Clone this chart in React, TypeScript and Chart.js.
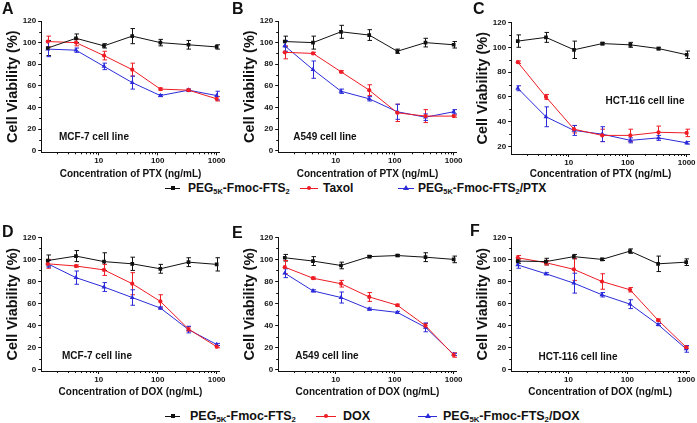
import React, { useEffect, useRef } from 'react';
import { Chart, registerables } from 'chart.js';
Chart.register(...registerables);

const FONT = '"Liberation Sans", Arial, Helvetica, sans-serif';
const INK = '#111111';
const RED = '#ee1c24';
const BLUE = '#2b2bd9';

// ---- data ----
const concentrations = [1.37, 4.12, 12.3, 37.0, 111, 333, 1000];
const xMajorTicks = [10, 100, 1000];
const yTicksFull = [0, 20, 40, 60, 80, 100, 120];
const yTicksC = [20, 40, 60, 80, 100, 120];

const aCarrier = [95, 104, 97, 106, 100, 98, 96];
const aCarrierErr = [7, 4, 2, 7, 3, 4, 2];
const aTaxol = [101, 100, 88, 75, 57, 56, 48];
const aTaxolErr = [5, 3, 4, 6, 1, 1, 2];
const aConj = [94, 93, 78, 63, 51, 56, 51];
const aConjErr = [7, 2, 3, 6, 1, 1, 4];

const bCarrier = [101, 100, 110, 107, 92, 100, 98];
const bCarrierErr = [5, 6, 6, 5, 2, 4, 3];
const bTaxol = [91, 90, 73, 56, 35, 32, 32];
const bTaxolErr = [6, 1, 1, 5, 8, 6, 1];
const bConj = [97, 75, 55, 48, 36, 31, 36];
const bConjErr = [5, 8, 2, 2, 7, 3, 2];

const cCarrier = [105, 108, 98, 103, 102, 99, 94];
const cCarrierErr = [5, 4, 7, 1, 2, 1, 3];
const cTaxol = [88, 60, 34, 29, 29, 31.5, 31];
const cTaxolErr = [1, 2, 3, 5, 5, 5, 3];
const cConj = [67, 44, 33, 30, 25, 27, 23];
const cConjErr = [2, 8, 4, 6, 2, 2, 1];

const dCarrier = [99, 103, 98, 96, 91.5, 97.5, 95.5];
const dCarrierErr = [5, 5, 8, 6, 4, 4, 6];
const dDox = [96, 94, 90.5, 78, 62, 37, 21];
const dDoxErr = [4, 1, 5, 10, 6, 2, 1];
const dConj = [96, 83.5, 75, 65.5, 56, 36.5, 23];
const dConjErr = [3, 6, 4, 7, 1, 3, 1];

const eCarrier = [101.5, 98.5, 94.5, 102.5, 103.5, 102, 100];
const eCarrierErr = [3, 4, 3, 1, 1, 4, 3];
const eDox = [93, 83, 78, 66, 58.5, 40, 13.5];
const eDoxErr = [6, 1, 3, 4, 1, 2, 2];
const eConj = [87.5, 71.5, 65.5, 55, 52, 38.5, 14];
const eConjErr = [4, 1, 5, 1, 1, 4, 1];

const fCarrier = [98.5, 98, 102.5, 100, 107.5, 96, 97.5];
const fCarrierErr = [2, 3, 2, 1, 2, 7, 3];
const fDox = [101.5, 97, 91, 80, 72.5, 45, 20.5];
const fDoxErr = [2, 2, 10, 7, 2, 1, 1];
const fConj = [95, 87, 78.5, 68, 59.5, 41, 19];
const fConjErr = [3, 1, 9, 2, 4, 1, 3];

// ---- plugins ----
const errorBarPlugin = {
  id: 'errorBars',
  beforeDatasetsDraw(chart: any) {
    const { ctx } = chart;
    const ys = chart.scales.y;
    chart.data.datasets.forEach((ds: any, i: number) => {
      const meta = chart.getDatasetMeta(i);
      const errs: number[] = ds.errors;
      if (!errs) return;
      ctx.save();
      ctx.strokeStyle = ds.borderColor;
      ctx.lineWidth = 1;
      ctx.beginPath();
      meta.data.forEach((pt: any, j: number) => {
        const v = ds.data[j].y;
        const e = errs[j];
        const top = ys.getPixelForValue(v + e);
        const bot = ys.getPixelForValue(v - e);
        const x = Math.round(pt.x) + 0.5;
        ctx.moveTo(x, top);
        ctx.lineTo(x, bot);
        ctx.moveTo(x - 2, top);
        ctx.lineTo(x + 2.5, top);
        ctx.moveTo(x - 2, bot);
        ctx.lineTo(x + 2.5, bot);
      });
      ctx.stroke();
      ctx.restore();
    });
  },
};

const minorTicksPlugin = {
  id: 'minorTicks',
  afterDraw(chart: any) {
    const { ctx, chartArea } = chart;
    const xs = chart.scales.x;
    const ys = chart.scales.y;
    ctx.save();
    ctx.strokeStyle = INK;
    ctx.lineWidth = 1;
    ctx.beginPath();
    for (let d = 1; d <= 1000; d *= 10) {
      for (let m = 2; m <= 9; m++) {
        const v = m * d;
        if (v < xs.min || v > xs.max) continue;
        const px = Math.round(xs.getPixelForValue(v)) + 0.5;
        ctx.moveTo(px, chartArea.bottom);
        ctx.lineTo(px, chartArea.bottom + 2);
      }
    }
    const yt = ys.ticks.map((t: any) => t.value);
    for (let i = 0; i < yt.length - 1; i++) {
      const v = (yt[i] + yt[i + 1]) / 2;
      const py = Math.round(ys.getPixelForValue(v)) + 0.5;
      ctx.moveTo(chartArea.left, py);
      ctx.lineTo(chartArea.left - 2, py);
    }
    ctx.stroke();
    ctx.restore();
  },
};

type Series = { values: number[]; errors: number[]; color: string; style: string; radius: number };
type PanelCfg = {
  left: number; top: number; width: number; height: number;
  padTop: number; chartBottom: number; yMin: number; yMax: number; yTicks: number[];
  xTitle: string; series: Series[];
};

const Y_AXIS_W = 41.2;
const PLOT_W = 178.6;

function mkSeries(carrier: number[], cErr: number[], drug: number[], dErr: number[], conj: number[], jErr: number[]): Series[] {
  return [
    { values: carrier, errors: cErr, color: INK, style: 'rect', radius: 2.6 },
    { values: drug, errors: dErr, color: RED, style: 'circle', radius: 2.1 },
    { values: conj, errors: jErr, color: BLUE, style: 'triangle', radius: 2.8 },
  ];
}

const panels: PanelCfg[] = [
  { left: 0, top: 0, width: 232, height: 180, padTop: 21, chartBottom: 152.3, yMin: -1.5, yMax: 120, yTicks: yTicksFull, xTitle: 'Concentration of PTX (ng/mL)', series: mkSeries(aCarrier, aCarrierErr, aTaxol, aTaxolErr, aConj, aConjErr) },
  { left: 237, top: 0, width: 232, height: 180, padTop: 21, chartBottom: 152.3, yMin: -1.5, yMax: 120, yTicks: yTicksFull, xTitle: 'Concentration of PTX (ng/mL)', series: mkSeries(bCarrier, bCarrierErr, bTaxol, bTaxolErr, bConj, bConjErr) },
  { left: 470, top: 0, width: 227, height: 180, padTop: 22.5, chartBottom: 154, yMin: 14, yMax: 120, yTicks: yTicksC, xTitle: 'Concentration of PTX (ng/mL)', series: mkSeries(cCarrier, cCarrierErr, cTaxol, cTaxolErr, cConj, cConjErr) },
  { left: 0, top: 216, width: 232, height: 182, padTop: 21.3, chartBottom: 155, yMin: -1, yMax: 120, yTicks: yTicksFull, xTitle: 'Concentration of DOX (ng/mL)', series: mkSeries(dCarrier, dCarrierErr, dDox, dDoxErr, dConj, dConjErr) },
  { left: 237, top: 216, width: 232, height: 182, padTop: 21.3, chartBottom: 155, yMin: -1, yMax: 120, yTicks: yTicksFull, xTitle: 'Concentration of DOX (ng/mL)', series: mkSeries(eCarrier, eCarrierErr, eDox, eDoxErr, eConj, eConjErr) },
  { left: 469.5, top: 216, width: 227.5, height: 182, padTop: 21.3, chartBottom: 155, yMin: -1, yMax: 120, yTicks: yTicksFull, xTitle: 'Concentration of DOX (ng/mL)', series: mkSeries(fCarrier, fCarrierErr, fDox, fDoxErr, fConj, fConjErr) },
];

function Panel({ cfg }: { cfg: PanelCfg }) {
  const ref = useRef<HTMLCanvasElement | null>(null);
  useEffect(() => {
    if (!ref.current) return;
    const padRight = cfg.width - Y_AXIS_W - PLOT_W;
    const xAxisH = cfg.height - cfg.chartBottom;
    const tickFont = { family: FONT, size: 8, weight: 'bold' as const };
    const chart = new Chart(ref.current, {
      type: 'line',
      data: {
        datasets: cfg.series.map((s) => ({
          data: concentrations.map((c, i) => ({ x: c, y: s.values[i] })),
          errors: s.errors,
          borderColor: s.color,
          backgroundColor: s.color,
          borderWidth: 1,
          pointStyle: s.style,
          pointRadius: s.radius,
          pointBorderWidth: 0,
          pointBackgroundColor: s.color,
          tension: 0,
          fill: false,
        })) as any,
      },
      options: {
        responsive: false,
        animation: false,
        devicePixelRatio: 1,
        events: [],
        layout: { padding: { top: cfg.padTop, right: padRight, left: 0, bottom: 0 } },
        plugins: { legend: { display: false }, tooltip: { enabled: false } },
        scales: {
          x: {
            type: 'logarithmic',
            min: 1.06,
            max: 1130,
            afterBuildTicks: (s: any) => { s.ticks = xMajorTicks.map((v) => ({ value: v })); },
            afterFit: (s: any) => { s.height = xAxisH; },
            ticks: { callback: (v: any) => String(v), font: tickFont, color: INK, padding: 1, maxRotation: 0, autoSkip: false },
            grid: { display: true, drawOnChartArea: false, drawTicks: true, tickLength: 3, color: INK, tickColor: INK },
            border: { display: true, color: INK, width: 1 },
            title: { display: true, text: cfg.xTitle, color: INK, font: { family: FONT, size: 10, weight: 'bold' }, padding: { top: 0, bottom: 0 } },
          },
          y: {
            type: 'linear',
            min: cfg.yMin,
            max: cfg.yMax,
            afterBuildTicks: (s: any) => { s.ticks = cfg.yTicks.map((v) => ({ value: v })); },
            afterFit: (s: any) => { s.width = Y_AXIS_W; },
            ticks: { font: tickFont, color: INK, padding: 2 },
            grid: { display: true, drawOnChartArea: false, drawTicks: true, tickLength: 3, color: INK, tickColor: INK },
            border: { display: true, color: INK, width: 1 },
            title: { display: true, text: 'Cell Viability (%)', color: INK, font: { family: FONT, size: 14.5, weight: 'bold' }, padding: { top: 4, bottom: 0 } },
          },
        },
      } as any,
      plugins: [errorBarPlugin, minorTicksPlugin],
    });
    return () => chart.destroy();
  }, [cfg]);
  return (
    <canvas
      ref={ref}
      width={cfg.width}
      height={cfg.height}
      style={{ position: 'absolute', left: cfg.left, top: cfg.top, width: cfg.width, height: cfg.height }}
    />
  );
}

const letters = [
  { t: 'A', x: 2, y: 3 }, { t: 'B', x: 232, y: 3 }, { t: 'C', x: 473, y: 3 },
  { t: 'D', x: 2, y: 226 }, { t: 'E', x: 232, y: 227 }, { t: 'F', x: 470, y: 225 },
];

const cellLabels = [
  { t: 'MCF-7 cell line', x: 94, y: 136 }, { t: 'A549 cell line', x: 325, y: 136 }, { t: 'HCT-116 cell line', x: 645, y: 100 },
  { t: 'MCF-7 cell line', x: 97, y: 355 }, { t: 'A549 cell line', x: 327, y: 355 }, { t: 'HCT-116 cell line', x: 578, y: 356 },
];

const Sub = ({ children }: { children: React.ReactNode }) => (
  <span style={{ fontSize: '0.62em', verticalAlign: '-0.3em', lineHeight: 0 }}>{children}</span>
);

function Marker({ kind, color, cx, cy }: { kind: string; color: string; cx: number; cy: number }) {
  if (kind === 'rect') return <div style={{ position: 'absolute', left: cx - 2, top: cy - 2, width: 4, height: 4, background: color }} />;
  if (kind === 'circle') return <div style={{ position: 'absolute', left: cx - 2, top: cy - 2, width: 4, height: 4, borderRadius: 2, background: color }} />;
  return <div style={{ position: 'absolute', left: cx - 3, top: cy - 3, width: 0, height: 0, borderLeft: '3px solid transparent', borderRight: '3px solid transparent', borderBottom: `5px solid ${color}` }} />;
}

function LegendItem({ x1, x2, tx, cy, color, kind, size, children }: any) {
  return (
    <>
      <div style={{ position: 'absolute', left: x1, top: cy - 0.5, width: x2 - x1, height: 1, background: color }} />
      <Marker kind={kind} color={color} cx={(x1 + x2) / 2} cy={cy} />
      <div style={{ position: 'absolute', left: tx, top: cy, transform: 'translateY(-50%)', whiteSpace: 'nowrap', fontFamily: FONT, fontWeight: 'bold', fontSize: size, color: INK, lineHeight: 1.2 }}>
        {children}
      </div>
    </>
  );
}

export default function App() {
  return (
    <div style={{ position: 'absolute', left: 0, top: 0, width: 697, height: 423, background: '#fff', overflow: 'hidden' }}>
      {panels.map((p, i) => <Panel key={i} cfg={p} />)}
      {letters.map((l) => (
        <div key={l.t} style={{ position: 'absolute', left: l.x, top: l.y - 2, fontFamily: FONT, fontWeight: 'bold', fontSize: 16, lineHeight: '16px', color: INK }}>{l.t}</div>
      ))}
      {cellLabels.map((l, i) => (
        <div key={i} style={{ position: 'absolute', left: l.x, top: l.y, transform: 'translate(-50%, -50%)', whiteSpace: 'nowrap', fontFamily: FONT, fontWeight: 'bold', fontSize: 10, color: INK }}>{l.t}</div>
      ))}
      <LegendItem x1={165} x2={180} tx={188} cy={188} color={INK} kind="rect" size={12}>PEG<Sub>5K</Sub>-Fmoc-FTS<Sub>2</Sub></LegendItem>
      <LegendItem x1={300} x2={318} tx={323} cy={188} color={RED} kind="circle" size={12}>Taxol</LegendItem>
      <LegendItem x1={398} x2={414} tx={418} cy={188} color={BLUE} kind="tri" size={12}>PEG<Sub>5K</Sub>-Fmoc-FTS<Sub>2</Sub>/PTX</LegendItem>
      <LegendItem x1={165} x2={180} tx={190} cy={416} color={INK} kind="rect" size={12.5}>PEG<Sub>5K</Sub>-Fmoc-FTS<Sub>2</Sub></LegendItem>
      <LegendItem x1={316} x2={336} tx={343} cy={416} color={RED} kind="circle" size={12.5}>DOX</LegendItem>
      <LegendItem x1={418} x2={437} tx={443} cy={416} color={BLUE} kind="tri" size={12.5}>PEG<Sub>5K</Sub>-Fmoc-FTS<Sub>2</Sub>/DOX</LegendItem>
    </div>
  );
}
